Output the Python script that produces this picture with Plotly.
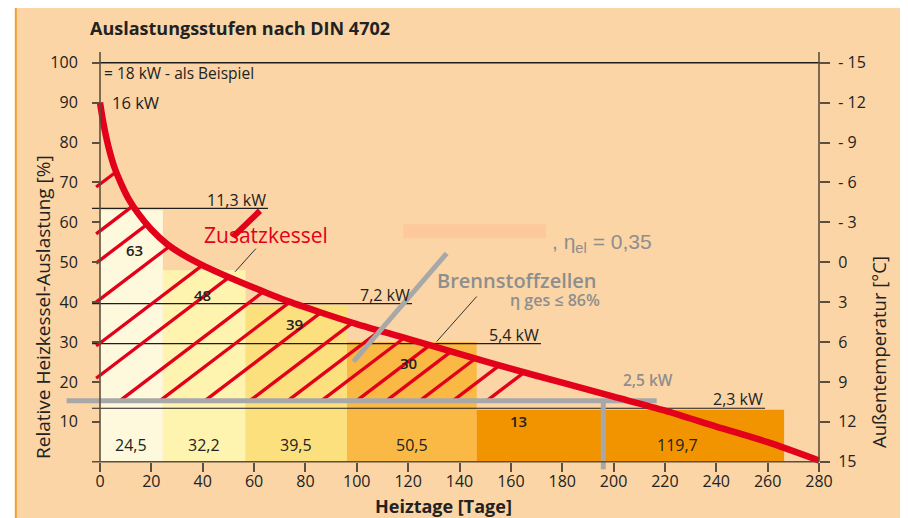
import numpy as np
import plotly.graph_objects as go

# ---------------- data ----------------
stage_days = [24.5, 32.2, 39.5, 50.5, 119.7]          # Heiztage per stage
stage_load = [63, 48, 39, 30, 13]                      # relative load [%]
stage_colors = ["#FEF8DC", "#FEF4B0", "#FDE07E", "#F9B944", "#F29400"]
stage_label_y = [53, 41.8, 34.5, 24.7, 10.2]
stage_label_x = [13.6, 40.1, 75.9, 120.3, 163.0]
days_label_x = [12.25, 40.6, 76.5, 121.5, 224.8]
days_label_y = 4.2

curve_days = [0, 1, 2, 3.5, 5.5, 8, 11, 15, 20, 26, 33, 41, 50, 60, 72, 86, 100,
              120, 140, 160, 180, 200, 220, 240, 260, 280]
curve_load = [90, 86.0, 82.6, 78.4, 74.0, 70.0, 66.0, 62.1, 58.2, 54.6, 51.6, 48.9, 46.3,
              43.6, 40.5, 37.4, 34.5, 30.8, 27.0, 23.3, 19.8, 16.3, 12.8, 8.8, 4.9, 0.3]

kw_labels = ["11,3 kW", "7,2 kW", "5,4 kW", "2,3 kW"]
kw_level = [63.5, 39.6, 29.6, 13.4]
kw_end_day = [65.4, 121.5, 171.7, 259.0]
line_start_day = -3.1
top_line_end_day = 284.3

fc_level = 15.3           # 2,5 kW fuel cell level
fc_start_day = -13.0
fc_end_day = 216.8
fc_drop_day = 196.0
fc_drop_bottom = -1.9
fc_diag_days = [98.7, 135.0]
fc_diag_load = [25.1, 52.2]

hatch_anchor_days = [-111, -87, -72, -52, -29.5, -13, 7.8, 23.4, 40.9, 58.4, 73.2,
                     86.3, 100, 111.6, 124.6, 137.5, 150.7]
hatch_slope = 0.489
hatch_left_day = -1.5

x_ticks = list(range(0, 281, 20))
y_ticks = list(range(10, 101, 10))
temp_tickvals = list(range(100, -1, -10))
temp_ticktext = ["- 15", "- 12", "- 9", "- 6", "- 3", "0", "3", "6", "9", "12", "15"]

# ---------------- geometry (page pixels; figure sits 8px in from page edge) ----------------
OFF = 8
W, H = 900, 510
ML, MR, MT, MB = 32, 20, 22, 30
PX0, PX280 = 100.0, 819.0
PY0, PY100 = 461.7, 62.7
kx = (PX280 - PX0) / 280.0
ky = (PY0 - PY100) / 100.0
pl, pr = OFF + ML, OFF + W - MR
pt, pb = OFF + MT, OFF + H - MB
x_range = [(pl - PX0) / kx, (pr - PX0) / kx]
y_range = [(PY0 - pb) / ky, (PY0 - pt) / ky]
PW, PH = pr - pl, pb - pt


def paper(px, py):
    return (px - pl) / PW, (pb - py) / PH


BG = "#FBD5A5"
RED = "#E2001A"
GREY = "#A8A8A8"
GTXT = "#8E8E8E"
AX = "#5E4E3E"
TXT = "#222222"
FONT = "Open Sans"

fig = go.Figure()

# stage bars
centers = list(np.cumsum(stage_days) - np.array(stage_days) / 2)
fig.add_trace(go.Bar(x=centers, y=stage_load, width=stage_days, marker_color=stage_colors,
                     marker_line_width=0, hoverinfo="skip"))

# kW level lines
for lvl, end in zip(kw_level, kw_end_day):
    fig.add_trace(go.Scatter(x=[line_start_day, end], y=[lvl, lvl], mode="lines",
                             line=dict(color="#1E1E1E", width=1.2), hoverinfo="skip"))
fig.add_trace(go.Scatter(x=[line_start_day, top_line_end_day], y=[100, 100], mode="lines",
                         line=dict(color="#1E1E1E", width=1.4), hoverinfo="skip"))

# salmon box
fig.add_shape(type="rect", xref="x", yref="y", x0=118.1, x1=173.7, y0=56.0, y1=59.5,
              fillcolor="#FDC99C", line_width=0, layer="above")

# hatching
fine = np.linspace(-2, 280, 5000)
hx, hy = [], []
for a in hatch_anchor_days:
    x0 = max(a, hatch_left_day)
    y0 = fc_level + hatch_slope * (x0 - a)
    xs = fine[fine >= x0]
    diff = np.interp(xs, curve_days, curve_load) - (fc_level + hatch_slope * (xs - a))
    idx = np.argmax(diff <= 0)
    x1 = xs[idx]
    y1 = fc_level + hatch_slope * (x1 - a)
    hx += [x0, x1, None]
    hy += [y0, y1, None]
fig.add_trace(go.Scatter(x=hx, y=hy, mode="lines", line=dict(color=RED, width=3.3),
                         hoverinfo="skip"))

# grey fuel-cell lines (horizontal + drop)
fig.add_trace(go.Scatter(x=[fc_start_day, fc_end_day], y=[fc_level, fc_level], mode="lines",
                         line=dict(color=GREY, width=5), hoverinfo="skip"))
fig.add_trace(go.Scatter(x=[fc_drop_day, fc_drop_day], y=[fc_level, fc_drop_bottom], mode="lines",
                         line=dict(color=GREY, width=5), hoverinfo="skip"))

# red load-duration curve
fig.add_trace(go.Scatter(x=curve_days, y=curve_load, mode="lines",
                         line=dict(color=RED, width=6.5, shape="spline", smoothing=0.8),
                         hoverinfo="skip"))

# grey diagonal
fig.add_trace(go.Scatter(x=fc_diag_days, y=fc_diag_load, mode="lines",
                         line=dict(color=GREY, width=5), hoverinfo="skip"))

# pointers
fig.add_trace(go.Scatter(x=[51.9, 62.3], y=[56.4, 62.9], mode="lines",
                         line=dict(color=RED, width=6), hoverinfo="skip"))
fig.add_trace(go.Scatter(x=[52.6, 60.7], y=[47.6, 53.4], mode="lines",
                         line=dict(color="#333333", width=1), hoverinfo="skip"))
fig.add_trace(go.Scatter(x=[131.1, 146.7], y=[30.1, 41.4], mode="lines",
                         line=dict(color="#333333", width=1), hoverinfo="skip"))

# axis lines
top_val = (PY0 - 52) / ky
for xs_, ys_ in [([0, 0], [0, top_val]), ([line_start_day, 280], [0, 0]), ([280, 280], [0, top_val])]:
    fig.add_trace(go.Scatter(x=xs_, y=ys_, mode="lines", line=dict(color=AX, width=1.6),
                             hoverinfo="skip"))

# dummy for y2
fig.add_trace(go.Scatter(x=[0], y=[0], yaxis="y2", mode="markers", marker=dict(opacity=0),
                         hoverinfo="skip"))

ann = []


def A(x, y, text, size=16, color=TXT, xanchor="center", yanchor="middle", ref="data",
      weight="normal", family=FONT, angle=0):
    if ref == "paper":
        x, y = paper(x, y)
        xr, yr = "paper", "paper"
    else:
        xr, yr = "x", "y"
    ann.append(dict(x=x, y=y, xref=xr, yref=yr, text=text, showarrow=False,
                    xanchor=xanchor, yanchor=yanchor, textangle=angle,
                    font=dict(family=family, size=size, color=color, weight=weight)))


for x, y, v in zip(stage_label_x, stage_label_y, stage_load):
    A(x, y, str(v), size=15, weight=600)
for x, d in zip(days_label_x, stage_days):
    A(x, days_label_y, f"{d}".replace(".", ","), size=16)
for lbl, lvl, end in zip(kw_labels, kw_level, kw_end_day):
    A(end, lvl + 2.2, lbl, size=16, xanchor="right")

A(0.8, 97.4, "= 18 kW - als Beispiel", size=15.5, xanchor="left")
A(3.9, 90.0, "16 kW", size=16.5, xanchor="left")
A(64.5, 56.8, "Zusatzkessel", size=21, color=RED, weight=500)
A(162.2, 45.5, "Brennstoffzellen", size=20, color=GTXT, weight=600)
A(177.2, 40.5, "η ges ≤ 86%", size=16, color=GTXT, weight=600)
A(195.5, 54.8, ", η<sub>el</sub> = 0,35", size=21, color=GTXT, family="Liberation Sans")
A(213.4, 20.5, "2,5 kW", size=15.5, color=GTXT, weight=600)

A(239.5, 28, "Auslastungsstufen nach DIN 4702", size=18, weight="bold", ref="paper")
A(443.5, 506, "Heiztage [Tage]", size=18, weight="bold", ref="paper")
A(43, 307, "Relative Heizkessel-Auslastung [%]", size=19, ref="paper", angle=-90)
A(878, 352, "Außentemperatur [°C]", size=18.5, ref="paper", angle=-90)

shapes = []
# white strip at the left and orange border
xa, _ = paper(OFF - 1, 0)
xb, _ = paper(15, 0)
_, ytop = paper(0, OFF - 1)
_, ybot = paper(0, OFF + H + 1)
shapes.append(dict(type="rect", xref="paper", yref="paper", x0=xa, x1=xb, y0=ybot, y1=ytop,
                   fillcolor="white", line_width=0, layer="above"))
xo, _ = paper(15.8, 0)
shapes.append(dict(type="line", xref="paper", yref="paper", x0=xo, x1=xo, y0=ybot, y1=ytop,
                   line=dict(color="#F0A030", width=2), layer="above"))
fig.update_layout(shapes=list(fig.layout.shapes) + shapes, annotations=ann)

tickfont = dict(family=FONT, size=16, color=TXT)
fig.update_layout(
    width=W, height=H,
    margin=dict(l=ML, r=MR, t=MT, b=MB, pad=0),
    paper_bgcolor=BG, plot_bgcolor=BG,
    showlegend=False, hovermode=False,
    xaxis=dict(range=x_range, anchor="free", position=paper(0, PY0)[1], showgrid=False,
               zeroline=False, showline=False, tickvals=x_ticks, ticks="outside", ticklen=9,
               tickcolor=AX, tickwidth=1.5, tickfont=tickfont, ticklabelstandoff=-4,
               automargin=False, fixedrange=True),
    yaxis=dict(range=y_range, anchor="free", position=paper(PX0, 0)[0], showgrid=False,
               zeroline=False, showline=False, tickvals=y_ticks, ticks="outside", ticklen=8,
               tickcolor=AX, tickwidth=1.5, tickfont=tickfont, ticklabelstandoff=11,
               automargin=False, fixedrange=True),
    yaxis2=dict(range=y_range, overlaying="y", side="right", anchor="free",
                position=paper(PX280, 0)[0], showgrid=False, zeroline=False, showline=False,
                tickvals=temp_tickvals, ticktext=temp_ticktext, ticks="outside", ticklen=10,
                tickcolor=AX, tickwidth=1.5, tickfont=tickfont, ticklabelstandoff=5,
                automargin=False, fixedrange=True),
)

fig.write_html("out.html")
